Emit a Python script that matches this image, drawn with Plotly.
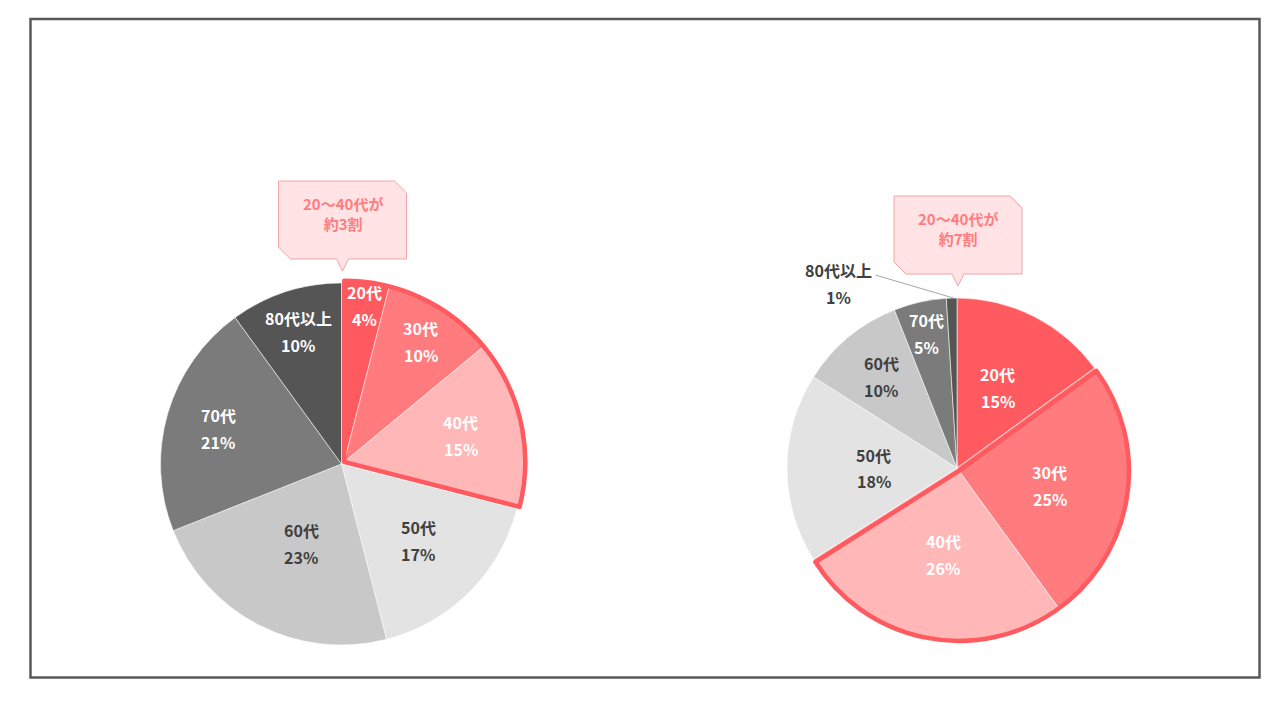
import math
import plotly.graph_objects as go

W, H = 1280, 720

# ---------------- data ----------------
AGE_LABELS = ["20代", "30代", "40代", "50代", "60代", "70代", "80代以上"]
LEFT_VALUES = [4, 10, 15, 17, 23, 21, 10]
RIGHT_VALUES = [15, 25, 26, 18, 10, 5, 1]
LEFT_HIGHLIGHT = [0, 1, 2]
RIGHT_HIGHLIGHT = [1, 2]
LEFT_CALLOUT = ["20～40代が", "約3割"]
RIGHT_CALLOUT = ["20～40代が", "約7割"]

# ---------------- style ----------------
SLICE_COLORS = ["#FF5A5F", "#FF7B7E", "#FFB7B8", "#E3E3E3", "#C8C8C8", "#7B7B7B", "#555555"]
TEXT_COLORS = ["white", "white", "white", "#404040", "#404040", "white", "white"]
HIGHLIGHT_LINE = "#FF5A5F"
CALLOUT_FILL = "#FFE3E5"
CALLOUT_LINE = "#F5A3A8"
CALLOUT_TEXT = "#FF7C80"
FONT = "Noto Sans CJK JP"
FS = 16

# label radial position factors (fraction of radius), per slice; None => outside label
LEFT_LABEL_R = [0.87, 0.79, 0.66, 0.60, 0.49, 0.71, 0.77]
RIGHT_LABEL_R = [0.53, 0.54, 0.50, 0.49, 0.70, 0.81, None]

LEFT_PIE = dict(cx=341.5, cy=464, r=181)
RIGHT_PIE = dict(cx=957, cy=468, r=170)
PULL_PX = 3.5

fig = go.Figure()
annotations = []
shapes = []


def px(x):
    return x / W


def py(y):
    return 1 - y / H


def domain(cx, cy, r):
    return dict(x=[px(cx - r), px(cx + r)], y=[py(cy + r), py(cy - r)])


def add_text(x, y, text, color, size=FS):
    annotations.append(dict(
        x=px(x), y=py(y), xref="paper", yref="paper", text=f"<b>{text}</b>",
        showarrow=False, xanchor="center", yanchor="middle",
        font=dict(family=FONT, size=size, color=color)))


def add_pie(values, highlight, geom, label_r, callout):
    cx, cy, r = geom["cx"], geom["cy"], geom["r"]
    total = sum(values)
    # group shift direction
    g_start = sum(values[:highlight[0]]) / total
    g_end = sum(values[:highlight[-1] + 1]) / total
    g_mid = (g_start + g_end) / 2 * 2 * math.pi
    dx, dy = PULL_PX * math.sin(g_mid), -PULL_PX * math.cos(g_mid)

    # base pie with all slices
    fig.add_trace(go.Pie(
        values=values, labels=AGE_LABELS, sort=False, direction="clockwise",
        rotation=0, textinfo="none", hoverinfo="skip", showlegend=False,
        marker=dict(colors=SLICE_COLORS,
                    line=dict(color="rgba(255,255,255,0.55)", width=1)),
        domain=domain(cx, cy, r)))

    # highlighted group (shifted)
    hl_colors = [SLICE_COLORS[i] if i in highlight else "rgba(0,0,0,0)"
                 for i in range(len(values))]
    hl_lines = ["rgba(255,255,255,0.55)" if i in highlight else "rgba(0,0,0,0)"
                for i in range(len(values))]
    fig.add_trace(go.Pie(
        values=values, labels=AGE_LABELS, sort=False, direction="clockwise",
        rotation=0, textinfo="none", hoverinfo="skip", showlegend=False,
        marker=dict(colors=hl_colors, line=dict(color=hl_lines, width=1)),
        domain=domain(cx + dx, cy + dy, r)))

    # outline of the group
    before = sum(values[:highlight[0]])
    grp = sum(values[highlight[0]:highlight[-1] + 1])
    after = total - before - grp
    o_vals, o_lines, o_w = [], [], []
    for v, is_g in ((before, False), (grp, True), (after, False)):
        if v > 0:
            o_vals.append(v)
            o_lines.append(HIGHLIGHT_LINE if is_g else "rgba(0,0,0,0)")
            o_w.append(4.5 if is_g else 0)
    fig.add_trace(go.Pie(
        values=o_vals, sort=False, direction="clockwise", rotation=0,
        textinfo="none", hoverinfo="skip", showlegend=False,
        marker=dict(colors=["rgba(0,0,0,0)"] * len(o_vals),
                    line=dict(color=o_lines, width=o_w)),
        domain=domain(cx + dx, cy + dy, r)))

    # labels
    cum = 0
    for i, v in enumerate(values):
        mid = (cum + v / 2) / total * 2 * math.pi
        cum += v
        ox, oy = (dx, dy) if i in highlight else (0, 0)
        if label_r[i] is None:
            # outside label with leader line
            ex = cx + ox + r * math.sin(mid)
            ey = cy + oy - r * math.cos(mid)
            lx, ly = ex - 113, ey - 27
            add_text(lx, ly - 1, AGE_LABELS[i], "#404040")
            add_text(lx, ly + 26, f"{v}%", "#404040")
            shapes.append(dict(type="line", xref="paper", yref="paper",
                               x0=px(lx + 37), y0=py(ly + 4), x1=px(ex + 2), y1=py(ey),
                               line=dict(color="#A6A6A6", width=1)))
            continue
        rr = label_r[i] * r
        tx = cx + ox + rr * math.sin(mid)
        ty = cy + oy - rr * math.cos(mid)
        add_text(tx, ty - 13.5, AGE_LABELS[i], TEXT_COLORS[i])
        add_text(tx, ty + 13.5, f"{v}%", TEXT_COLORS[i])

    # callout
    tip_x, tip_y = cx + 1, cy - r - 12
    bw, bh, c, pw, ph = 128, 78, 12, 6, 12
    x0, x1 = tip_x - bw / 2, tip_x + bw / 2
    y1 = tip_y - ph
    y0 = y1 - bh
    pts = [(x0, y0), (x1 - c, y0), (x1, y0 + c), (x1, y1), (tip_x + pw, y1),
           (tip_x, tip_y), (tip_x - pw, y1), (x0 + c, y1), (x0, y1 - c)]
    path = "M " + " L ".join(f"{px(a):.5f},{py(b):.5f}" for a, b in pts) + " Z"
    shapes.append(dict(type="path", xref="paper", yref="paper", path=path,
                       fillcolor=CALLOUT_FILL, line=dict(color=CALLOUT_LINE, width=1)))
    add_text(tip_x, y0 + 32.5, "<br>".join(callout), CALLOUT_TEXT, size=15)


add_pie(LEFT_VALUES, LEFT_HIGHLIGHT, LEFT_PIE, LEFT_LABEL_R, LEFT_CALLOUT)
add_pie(RIGHT_VALUES, RIGHT_HIGHLIGHT, RIGHT_PIE, RIGHT_LABEL_R, RIGHT_CALLOUT)

# outer frame
shapes.append(dict(type="rect", xref="paper", yref="paper",
                   x0=px(30.5), x1=px(1259.5), y0=py(677.5), y1=py(19),
                   line=dict(color="#595959", width=2.5), fillcolor="rgba(0,0,0,0)",
                   layer="above"))

fig.update_layout(
    width=W, height=H, margin=dict(l=0, r=0, t=0, b=0),
    paper_bgcolor="white", plot_bgcolor="white",
    font=dict(family=FONT),
    annotations=annotations, shapes=shapes, showlegend=False,
)

fig.write_html("out.html")
